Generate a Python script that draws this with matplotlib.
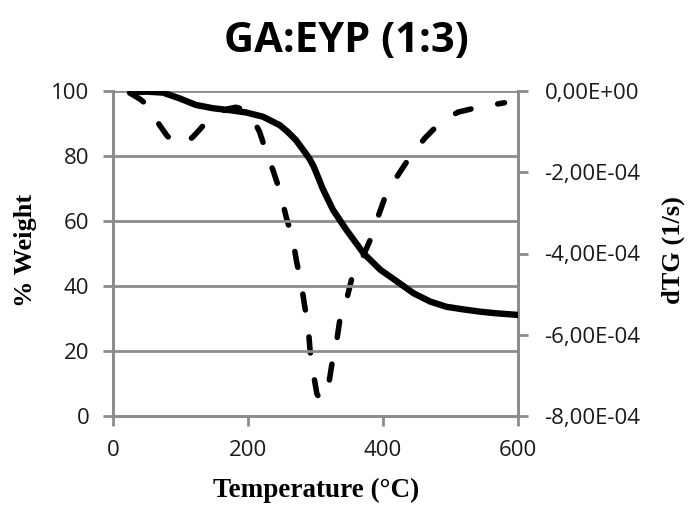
import numpy as np
import matplotlib
matplotlib.use("Agg")
import matplotlib.pyplot as plt
from matplotlib.ticker import FuncFormatter

# TG curve (% weight)
tg_temp = [25, 50, 74, 99, 123, 148, 173, 197, 222, 247, 259, 271, 282, 291, 297,
           304, 311, 326, 346, 371, 396, 420, 445, 470, 494, 519, 544, 568, 600]
tg_weight = [99.6, 99.8, 99.5, 97.7, 95.7, 94.7, 94.1, 93.4, 92.1, 89.5, 87.4, 84.9,
             81.8, 79.2, 76.9, 73.4, 69.8, 63.4, 57.2, 50.1, 45.0, 41.5, 37.8, 35.2,
             33.6, 32.8, 32.1, 31.6, 31.1]

# dTG curve (1/s)
dtg_temp = [25, 40, 52, 69, 80, 89, 100, 110, 119, 130, 141, 155, 170, 182, 195,
            205, 217, 227, 237, 247, 257, 266, 272, 279, 284, 289, 292, 296, 302,
            307, 313, 319, 324, 331, 336, 346, 354, 368, 383, 393, 405, 423, 440,
            462, 484, 511, 544, 580]
dtg_rate = [-0.05, -0.2, -0.36, -0.84, -1.1, -1.25, -1.3, -1.25, -1.12, -0.92,
            -0.71, -0.55, -0.44, -0.40, -0.46, -0.62, -1.0, -1.5, -1.95, -2.45,
            -3.13, -3.62, -4.2, -4.75, -5.3, -5.76, -6.4, -6.87, -7.45, -7.6, -7.5,
            -7.28, -6.75, -6.2, -5.64, -5.14, -4.6, -4.16, -3.59, -3.08, -2.52,
            -2.05, -1.62, -1.16, -0.79, -0.52, -0.39, -0.29]
dtg_scale = 1e-4

x_ticks = [0, 200, 400, 600]
w_ticks = [0, 20, 40, 60, 80, 100]
r_ticks = [-8e-4, -6e-4, -4e-4, -2e-4, 0]

grid_col = "#8c8c8c"
tick_font = "Open Sans"
label_font = "Liberation Serif"

fig = plt.figure(figsize=(6.99, 5.09), dpi=100)
ax = fig.add_axes([113 / 699, 1 - 416 / 509, 405 / 699, 325 / 509])
ax2 = ax.twinx()

ax.set_xlim(0, 600)
ax.set_ylim(0, 100)
ax.set_xticks(x_ticks)
ax.set_yticks(w_ticks)
ax.yaxis.grid(True, color=grid_col, linewidth=2)
ax.set_axisbelow(True)

ax2.set_ylim(-8e-4, 0)
ax2.set_yticks(r_ticks)
ax2.yaxis.set_major_formatter(
    FuncFormatter(lambda v, p: "0,00E+00" if v == 0 else
                  ("%.2E" % v).replace(".", ",")))

for a in (ax, ax2):
    a.spines["top"].set_visible(False)
    for s in ("left", "right", "bottom"):
        a.spines[s].set_color(grid_col)
        a.spines[s].set_linewidth(2)
    a.tick_params(colors=grid_col, width=2, length=7, labelcolor="#1a1a1a",
                  labelsize=16)
    for lab in a.get_xticklabels() + a.get_yticklabels():
        lab.set_fontfamily(tick_font)
ax.tick_params(axis="x", pad=10)
ax.tick_params(axis="y", pad=10)
ax2.tick_params(axis="y", pad=12)

ax2.plot(dtg_temp, np.array(dtg_rate) * dtg_scale, color="black", linewidth=4.0,
         linestyle=(0, (2.9, 4.9)), dash_capstyle="round", solid_capstyle="round",
         dash_joinstyle="round")
ax.plot(tg_temp, tg_weight, color="black", linewidth=4.6, zorder=3,
        solid_capstyle="round", solid_joinstyle="round")
ax.set_zorder(ax2.get_zorder() + 1)
ax.patch.set_visible(False)

ax.set_xlabel("Temperature (°C)", fontfamily=label_font, fontweight="bold",
              fontsize=19.5)
ax.set_ylabel("% Weight", fontfamily=label_font, fontweight="bold", fontsize=19)
ax2.set_ylabel("dTG (1/s)", fontfamily=label_font, fontweight="bold", fontsize=19)
ax.xaxis.set_label_coords(0.501, -0.228)
ax.yaxis.set_label_coords(-0.215, 0.51)
ax2.yaxis.set_label_coords(1.383, 0.51)
ax.xaxis.label.set_va("center")
ax.yaxis.label.set_va("center")
ax2.yaxis.label.set_va("center")

fig.text(346 / 699, 1 - 42 / 509, "GA:EYP (1:3)", ha="center", va="center",
         fontfamily="Open Sans", fontweight="bold", fontsize=30)

fig.savefig("out.png", dpi=100)
